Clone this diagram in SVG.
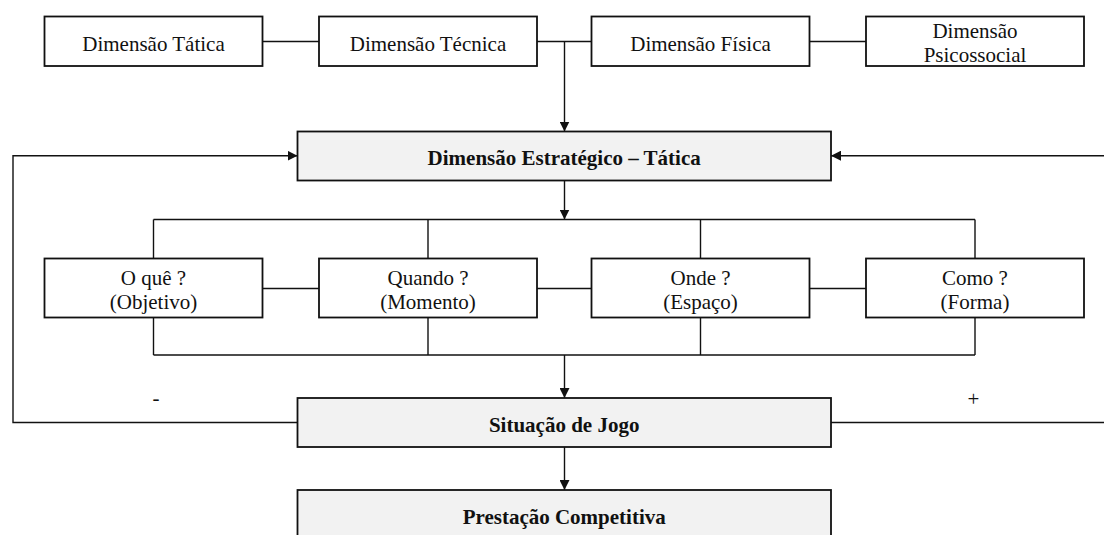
<svg xmlns="http://www.w3.org/2000/svg" width="1104" height="535" viewBox="0 0 1104 535">
<style>
.box{fill:#ffffff;stroke:#111;stroke-width:1.8}
.gbox{fill:#f2f2f2;stroke:#111;stroke-width:1.8}
.ln{fill:none;stroke:#111;stroke-width:1.4}
.t{font-family:"Liberation Serif","Times New Roman",serif;font-size:21px;fill:#111;text-anchor:middle}
.b{font-weight:bold}
</style>
<defs>
<marker id="ah" markerUnits="userSpaceOnUse" markerWidth="10" markerHeight="10" refX="10" refY="5" orient="auto">
<path d="M0,0 L10,5 L0,10 z" fill="#111"/>
</marker>
</defs>
<rect width="1104" height="535" fill="#ffffff"/>
<g id="connectors">
<line class="ln" x1="262.5" y1="41.5" x2="319" y2="41.5"/>
<line class="ln" x1="537" y1="41.5" x2="591.5" y2="41.5"/>
<line class="ln" x1="809.5" y1="41.5" x2="866" y2="41.5"/>
<line class="ln" x1="564.5" y1="41.5" x2="564.5" y2="131.5" marker-end="url(#ah)"/>
<line class="ln" x1="564.5" y1="180.5" x2="564.5" y2="219.5" marker-end="url(#ah)"/>
<line class="ln" x1="153.5" y1="219.5" x2="975" y2="219.5"/>
<line class="ln" x1="153.5" y1="219.5" x2="153.5" y2="258.5"/>
<line class="ln" x1="428" y1="219.5" x2="428" y2="258.5"/>
<line class="ln" x1="700.5" y1="219.5" x2="700.5" y2="258.5"/>
<line class="ln" x1="975" y1="219.5" x2="975" y2="258.5"/>
<line class="ln" x1="262.5" y1="288.5" x2="319" y2="288.5"/>
<line class="ln" x1="537" y1="288.5" x2="591.5" y2="288.5"/>
<line class="ln" x1="809.5" y1="288.5" x2="866" y2="288.5"/>
<line class="ln" x1="153.5" y1="317.5" x2="153.5" y2="355"/>
<line class="ln" x1="428" y1="317.5" x2="428" y2="355"/>
<line class="ln" x1="700.5" y1="317.5" x2="700.5" y2="355"/>
<line class="ln" x1="975" y1="317.5" x2="975" y2="355"/>
<line class="ln" x1="153.5" y1="355" x2="975" y2="355"/>
<line class="ln" x1="564.5" y1="355" x2="564.5" y2="398" marker-end="url(#ah)"/>
<line class="ln" x1="564.5" y1="447" x2="564.5" y2="490" marker-end="url(#ah)"/>
<polyline class="ln" points="297.5,422.5 13,422.5 13,155.7 297.5,155.7" marker-end="url(#ah)"/>
<polyline class="ln" points="831,422.5 1110,422.5 1110,155.7 831,155.7" marker-end="url(#ah)"/>
</g>
<g id="n-tatica"><rect class="box" x="44.5" y="16.5" width="218" height="49.5"/><text class="t" x="153.5" y="50.5">Dimensão Tática</text></g>
<g id="n-tecnica"><rect class="box" x="319" y="16.5" width="218" height="49.5"/><text class="t" x="428" y="50.5">Dimensão Técnica</text></g>
<g id="n-fisica"><rect class="box" x="591.5" y="16.5" width="218" height="49.5"/><text class="t" x="700.5" y="50.5">Dimensão Física</text></g>
<g id="n-psico"><rect class="box" x="866" y="16.5" width="218" height="49.5"/><text class="t" x="975" y="37.5">Dimensão</text><text class="t" x="975" y="61.5">Psicossocial</text></g>
<g id="n-estrategico"><rect class="gbox" x="297.5" y="131.5" width="533.5" height="49"/><text class="t b" x="564.2" y="165">Dimensão Estratégico – Tática</text></g>
<g id="n-oque"><rect class="box" x="44.5" y="258.5" width="218" height="59"/><text class="t" x="153.5" y="284.5">O quê ?</text><text class="t" x="153.5" y="308.5">(Objetivo)</text></g>
<g id="n-quando"><rect class="box" x="319" y="258.5" width="218" height="59"/><text class="t" x="428" y="284.5">Quando ?</text><text class="t" x="428" y="308.5">(Momento)</text></g>
<g id="n-onde"><rect class="box" x="591.5" y="258.5" width="218" height="59"/><text class="t" x="700.5" y="284.5">Onde ?</text><text class="t" x="700.5" y="308.5">(Espaço)</text></g>
<g id="n-como"><rect class="box" x="866" y="258.5" width="218" height="59"/><text class="t" x="975" y="284.5">Como ?</text><text class="t" x="975" y="308.5">(Forma)</text></g>
<g id="n-situacao"><rect class="gbox" x="297.5" y="398" width="533.5" height="49"/><text class="t b" x="564.2" y="431.5">Situação de Jogo</text></g>
<g id="n-prestacao"><rect class="gbox" x="297.5" y="490" width="533.5" height="49"/><text class="t b" x="564.2" y="523.5">Prestação Competitiva</text></g>
<text class="t" x="156" y="404.5">-</text>
<text class="t" x="973.5" y="406">+</text>
</svg>
